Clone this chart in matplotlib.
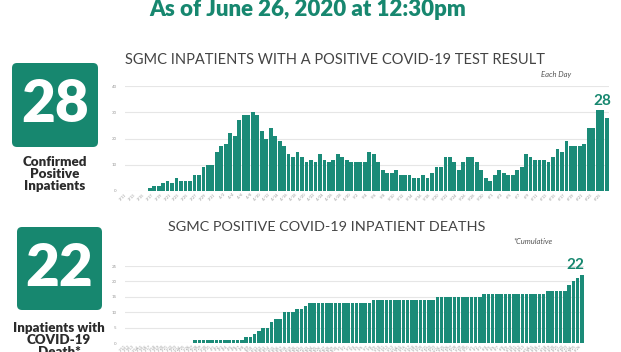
import matplotlib.pyplot as plt
import pandas as pd
from matplotlib.patches import FancyBboxPatch

# daily positive inpatients, 3/11 - 6/26
inpatients = [0, 0, 0, 0, 0, 0,
              1, 2, 2, 3, 4, 3, 5, 4, 4, 4, 6, 6, 9, 10, 10, 15, 17, 18, 22, 21,
              27, 29, 29, 30, 29, 23, 20, 24, 21, 19, 17, 14, 13, 15, 13, 11, 12, 11,
              14, 12, 11, 12, 14, 13, 12, 11, 11,
              11, 11, 15, 14, 11, 8, 7, 7, 8, 6, 6, 6, 5, 5, 6, 5, 7, 9, 9, 13, 13,
              11, 8, 11, 13, 13, 11, 8,
              5, 4, 6, 8, 7, 6, 6, 8, 9, 14, 13, 12, 12, 12, 11, 13, 16, 15, 19, 17,
              17, 17, 18, 24, 24, 31, 31, 28][-108:]

# cumulative inpatient deaths
deaths = ([0] * 16 + [1] * 12 + [2, 2, 3, 4, 5, 5, 7, 8, 8, 10, 10, 10, 11, 11, 12]
          + [13] * 15 + [14] * 15 + [15] * 11 + [16] * 15 + [17] * 5 + [19, 20, 21, 22])

dates = pd.date_range('2020-03-11', periods=108)
date_labels = [f'{d.month}/{d.day}' for d in dates]

teal = '#17876f'
bar_teal = '#1b8b78'
W, H = 621, 352

fig = plt.figure(figsize=(W / 100, H / 100), dpi=100)
plt.rcParams['font.family'] = ['Lato', 'DejaVu Sans']


def axes_px(x0, y0, x1, y1):
    return fig.add_axes([x0 / W, 1 - y1 / H, (x1 - x0) / W, (y1 - y0) / H])


# top chart
ax1 = axes_px(125, 86, 609, 191)
ax1.bar(range(len(inpatients)), inpatients, width=0.85, color=bar_teal)
ax1.set_xlim(-0.5, len(inpatients) - 0.5)
ax1.set_ylim(0, 40)
ax1.set_yticks([0, 10, 20, 30, 40])
ax1.set_xticks(range(0, len(inpatients), 2))
ax1.set_xticklabels(date_labels[::2], rotation=45, ha='right', fontsize=2.8, color='#999999')
ax1.tick_params(axis='y', labelsize=3.2, labelcolor='#999999', length=0, pad=6)
ax1.tick_params(axis='x', length=0, pad=1)
ax1.grid(axis='y', color='#e6e6e6', linewidth=0.8)
ax1.set_axisbelow(True)
for s in ax1.spines.values():
    s.set_visible(False)
ax1.text(len(inpatients) - 2, 31.5, '28', ha='center', va='bottom', fontsize=11,
         fontweight='bold', color=teal)

# bottom chart
ax2 = axes_px(125, 266, 584, 343.3)
ax2.bar(range(len(deaths)), deaths, width=0.85, color=bar_teal)
ax2.set_xlim(-0.5, len(deaths) - 0.5)
ax2.set_ylim(0, 25)
ax2.set_yticks([0, 5, 10, 15, 20, 25])
ax2.set_xticks(range(len(deaths)))
ax2.set_xticklabels(date_labels, rotation=45, ha='right', fontsize=2.6, color='#999999')
ax2.tick_params(axis='y', labelsize=3.2, labelcolor='#999999', length=0, pad=6)
ax2.tick_params(axis='x', length=0, pad=1)
ax2.grid(axis='y', color='#e6e6e6', linewidth=0.8)
ax2.set_axisbelow(True)
for s in ax2.spines.values():
    s.set_visible(False)
ax2.text(len(deaths) - 2.5, 23, '22', ha='center', va='bottom', fontsize=11,
         fontweight='bold', color=teal)

# overlay in pixel units for boxes and text
ov = fig.add_axes([0, 0, 1, 1])
ov.set_xlim(0, W)
ov.set_ylim(H, 0)
ov.axis('off')
ov.patch.set_alpha(0)

ov.text(308, 9, 'As of June 26, 2020 at 12:30pm', ha='center', va='center',
        fontsize=16, fontweight='heavy', color=teal)
ov.text(335, 60, 'SGMC INPATIENTS WITH A POSITIVE COVID-19 TEST RESULT', ha='center',
        va='center', fontsize=10.5, color='#444444')
ov.text(556, 75, 'Each Day', ha='center', va='center', fontsize=5.5, style='italic',
        color='#555555')
ov.text(327, 227, 'SGMC POSITIVE COVID-19 INPATIENT DEATHS', ha='center', va='center',
        fontsize=10.4, color='#444444')
ov.text(533, 241, '*Cumulative', ha='center', va='center', fontsize=5.5, style='italic',
        color='#555555')

ov.add_patch(FancyBboxPatch((12, 63), 86, 84, boxstyle='round,pad=0,rounding_size=5',
                            facecolor=teal, edgecolor='none'))
ov.text(55, 104, '28', ha='center', va='center', fontsize=42, fontweight='heavy',
        color='white')
ov.text(55, 174, 'Confirmed\nPositive\nInpatients', ha='center', va='center',
        fontsize=9.6, fontweight='heavy', color='#2b2b2b', linespacing=0.95)

ov.add_patch(FancyBboxPatch((17, 227), 85, 83, boxstyle='round,pad=0,rounding_size=5',
                            facecolor=teal, edgecolor='none'))
ov.text(59, 268, '22', ha='center', va='center', fontsize=42, fontweight='heavy',
        color='white')
ov.text(59, 340, 'Inpatients with\nCOVID-19\nDeath*', ha='center', va='center',
        fontsize=9.6, fontweight='heavy', color='#2b2b2b', linespacing=0.95)

fig.savefig('out.png', dpi=100)
